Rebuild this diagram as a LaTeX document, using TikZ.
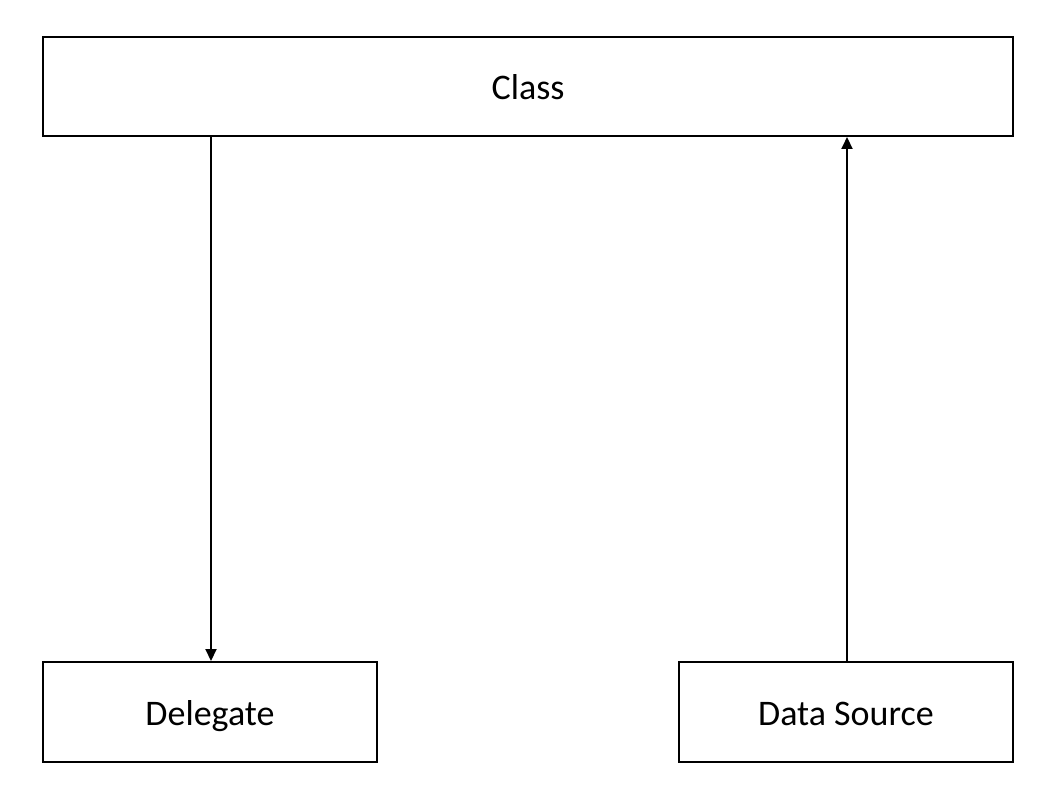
\documentclass[tikz,border=0pt]{standalone}
\usepackage{fontspec}
\setmainfont{Carlito}
\usetikzlibrary{arrows.meta}
\begin{document}
\begin{tikzpicture}[x=1pt,y=-1pt,
  box/.style={draw, line width=2pt, inner sep=0pt, text height=27pt, text depth=0pt, font=\fontsize{36}{43}\selectfont},
  conn/.style={line width=2pt, -{Triangle[length=12pt,width=11pt]}}]
\useasboundingbox (0,0) rectangle (1056,810);
\node[box, minimum width=970pt, minimum height=99pt] (class) at (528,86.5) {Class};
\node[box, minimum width=334pt, minimum height=100pt] (delegate) at (210,712) {Delegate};
\node[box, minimum width=334pt, minimum height=100pt] (datasource) at (846,712) {Data Source};
\draw[conn] (class.south -| 211,0) -- (delegate.north -| 211,0);
\draw[conn] (datasource.north -| 847,0) -- (class.south -| 847,0);
\end{tikzpicture}
\end{document}
